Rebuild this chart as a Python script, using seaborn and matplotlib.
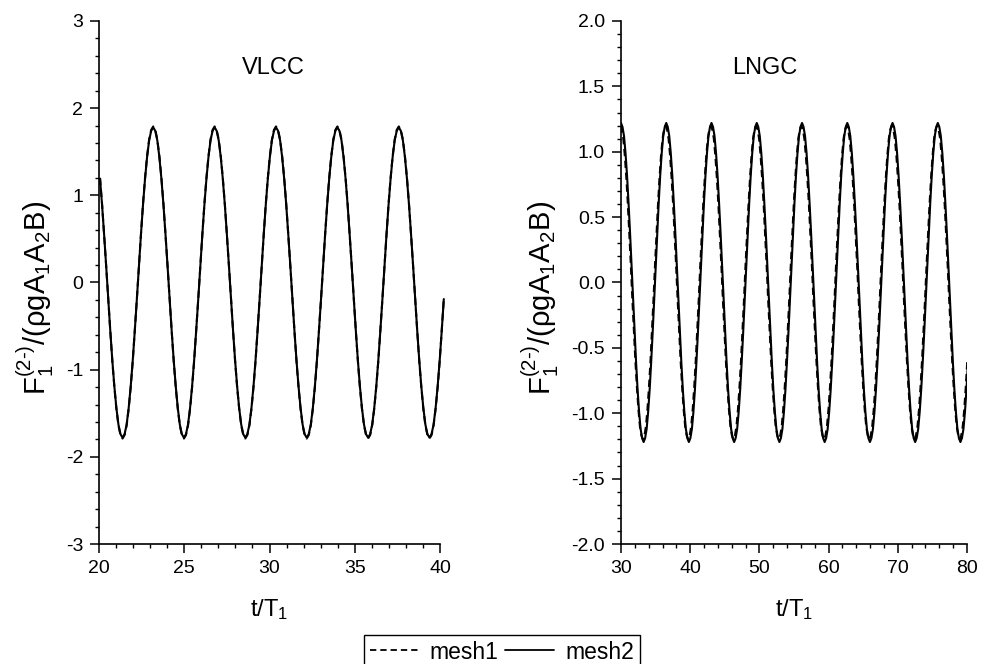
import numpy as np
import pandas as pd
import matplotlib
matplotlib.use("Agg")
import matplotlib.pyplot as plt
import seaborn as sns
from matplotlib.ticker import MultipleLocator, FormatStrFormatter
from matplotlib.lines import Line2D

# ---------------- data ----------------
# VLCC panel: samples every 0.12 t/T1 starting at t/T1 = 20.06
vlcc_t0 = 20.06
vlcc_dt = 0.12
vlcc_mesh2 = [
    1.19, 0.89, 0.55, 0.19, -0.19, -0.55, -0.89, -1.19, -1.44, -1.63, -1.74, -1.78, -1.74, -1.63, -1.44, -1.19, -0.89, -0.55, -0.19, 0.19, 0.55, 0.89, 1.19, 1.44, 1.63, 1.74,
    1.78, 1.74, 1.63, 1.44, 1.19, 0.89, 0.55, 0.19, -0.19, -0.55, -0.89, -1.19, -1.44, -1.63, -1.74, -1.78, -1.74, -1.63, -1.44, -1.19, -0.89, -0.55, -0.19, 0.19, 0.55, 0.89, 1.19, 1.44, 1.63, 1.74,
    1.78, 1.74, 1.63, 1.44, 1.19, 0.89, 0.55, 0.19, -0.19, -0.55, -0.89, -1.19, -1.44, -1.63, -1.74, -1.78, -1.74, -1.63, -1.44, -1.19, -0.89, -0.55, -0.19, 0.19, 0.55, 0.89, 1.19, 1.44, 1.63, 1.74,
    1.78, 1.74, 1.63, 1.44, 1.19, 0.89, 0.55, 0.19, -0.19, -0.55, -0.89, -1.19, -1.44, -1.63, -1.74, -1.78, -1.74, -1.63, -1.44, -1.19, -0.89, -0.55, -0.19, 0.19, 0.55, 0.89, 1.19, 1.44, 1.63, 1.74,
    1.78, 1.74, 1.63, 1.44, 1.19, 0.89, 0.55, 0.19, -0.19, -0.55, -0.89, -1.19, -1.44, -1.63, -1.74, -1.78, -1.74, -1.63, -1.44, -1.19, -0.89, -0.55, -0.19, 0.19, 0.55, 0.89, 1.19, 1.44, 1.63, 1.74,
    1.78, 1.74, 1.63, 1.44, 1.19, 0.89, 0.55, 0.19, -0.19, -0.55, -0.89, -1.19, -1.44, -1.63, -1.74, -1.78, -1.74, -1.63, -1.44, -1.19, -0.89, -0.55, -0.19,
]
vlcc_mesh1 = [
    1.20, 0.90, 0.55, 0.19, -0.19, -0.55, -0.90, -1.20, -1.45, -1.64, -1.75, -1.79, -1.75, -1.64, -1.45, -1.20, -0.90, -0.55, -0.19, 0.19, 0.55, 0.90, 1.20, 1.45, 1.64, 1.75,
    1.79, 1.75, 1.64, 1.45, 1.20, 0.90, 0.55, 0.19, -0.19, -0.55, -0.90, -1.20, -1.45, -1.64, -1.75, -1.79, -1.75, -1.64, -1.45, -1.20, -0.90, -0.55, -0.19, 0.19, 0.55, 0.90, 1.20, 1.45, 1.64, 1.75,
    1.79, 1.75, 1.64, 1.45, 1.20, 0.90, 0.55, 0.19, -0.19, -0.55, -0.90, -1.20, -1.45, -1.64, -1.75, -1.79, -1.75, -1.64, -1.45, -1.20, -0.90, -0.55, -0.19, 0.19, 0.55, 0.90, 1.20, 1.45, 1.64, 1.75,
    1.79, 1.75, 1.64, 1.45, 1.20, 0.90, 0.55, 0.19, -0.19, -0.55, -0.90, -1.20, -1.45, -1.64, -1.75, -1.79, -1.75, -1.64, -1.45, -1.20, -0.90, -0.55, -0.19, 0.19, 0.55, 0.90, 1.20, 1.45, 1.64, 1.75,
    1.79, 1.75, 1.64, 1.45, 1.20, 0.90, 0.55, 0.19, -0.19, -0.55, -0.90, -1.20, -1.45, -1.64, -1.75, -1.79, -1.75, -1.64, -1.45, -1.20, -0.90, -0.55, -0.19, 0.19, 0.55, 0.90, 1.20, 1.45, 1.64, 1.75,
    1.79, 1.75, 1.64, 1.45, 1.20, 0.90, 0.55, 0.19, -0.19, -0.55, -0.90, -1.20, -1.45, -1.64, -1.75, -1.79, -1.75, -1.64, -1.45, -1.20, -0.90, -0.55, -0.19,
]

# LNGC panel: samples every 0.218 t/T1; mesh1 leads mesh2 slightly
lngc_dt = 0.218
lngc_t0_mesh2 = 30.0
lngc_t0_mesh1 = 29.9
lngc_mesh2 = [
    1.22, 1.19, 1.12, 0.99, 0.82, 0.61, 0.38, 0.13, -0.13, -0.38, -0.61, -0.82, -0.99, -1.12, -1.19, -1.22, -1.19, -1.12, -0.99, -0.82, -0.61, -0.38, -0.13, 0.13, 0.38, 0.61, 0.82, 0.99, 1.12, 1.19,
    1.22, 1.19, 1.12, 0.99, 0.82, 0.61, 0.38, 0.13, -0.13, -0.38, -0.61, -0.82, -0.99, -1.12, -1.19, -1.22, -1.19, -1.12, -0.99, -0.82, -0.61, -0.38, -0.13, 0.13, 0.38, 0.61, 0.82, 0.99, 1.12, 1.19,
    1.22, 1.19, 1.12, 0.99, 0.82, 0.61, 0.38, 0.13, -0.13, -0.38, -0.61, -0.82, -0.99, -1.12, -1.19, -1.22, -1.19, -1.12, -0.99, -0.82, -0.61, -0.38, -0.13, 0.13, 0.38, 0.61, 0.82, 0.99, 1.12, 1.19,
    1.22, 1.19, 1.12, 0.99, 0.82, 0.61, 0.38, 0.13, -0.13, -0.38, -0.61, -0.82, -0.99, -1.12, -1.19, -1.22, -1.19, -1.12, -0.99, -0.82, -0.61, -0.38, -0.13, 0.13, 0.38, 0.61, 0.82, 0.99, 1.12, 1.19,
    1.22, 1.19, 1.12, 0.99, 0.82, 0.61, 0.38, 0.13, -0.13, -0.38, -0.61, -0.82, -0.99, -1.12, -1.19, -1.22, -1.19, -1.12, -0.99, -0.82, -0.61, -0.38, -0.13, 0.13, 0.38, 0.61, 0.82, 0.99, 1.12, 1.19,
    1.22, 1.19, 1.12, 0.99, 0.82, 0.61, 0.38, 0.13, -0.13, -0.38, -0.61, -0.82, -0.99, -1.12, -1.19, -1.22, -1.19, -1.12, -0.99, -0.82, -0.61, -0.38, -0.13, 0.13, 0.38, 0.61, 0.82, 0.99, 1.12, 1.19,
    1.22, 1.19, 1.12, 0.99, 0.82, 0.61, 0.38, 0.13, -0.13, -0.38, -0.61, -0.82, -0.99, -1.12, -1.19, -1.22, -1.19, -1.12, -0.99, -0.82, -0.61, -0.38, -0.13, 0.13, 0.38, 0.61, 0.82, 0.99, 1.12, 1.19,
    1.22, 1.19, 1.12, 0.99, 0.82, 0.61, 0.38, 0.13, -0.13, -0.38, -0.61, -0.82, -0.99, -1.12, -1.19, -1.22, -1.19, -1.12, -0.99, -0.82, -0.61,
]
lngc_mesh1 = [
    1.20, 1.17, 1.10, 0.97, 0.80, 0.60, 0.37, 0.13, -0.13, -0.37, -0.60, -0.80, -0.97, -1.10, -1.17, -1.20, -1.17, -1.10, -0.97, -0.80, -0.60, -0.37, -0.13, 0.13, 0.37, 0.60, 0.80, 0.97, 1.10, 1.17,
    1.20, 1.17, 1.10, 0.97, 0.80, 0.60, 0.37, 0.13, -0.13, -0.37, -0.60, -0.80, -0.97, -1.10, -1.17, -1.20, -1.17, -1.10, -0.97, -0.80, -0.60, -0.37, -0.13, 0.13, 0.37, 0.60, 0.80, 0.97, 1.10, 1.17,
    1.20, 1.17, 1.10, 0.97, 0.80, 0.60, 0.37, 0.13, -0.13, -0.37, -0.60, -0.80, -0.97, -1.10, -1.17, -1.20, -1.17, -1.10, -0.97, -0.80, -0.60, -0.37, -0.13, 0.13, 0.37, 0.60, 0.80, 0.97, 1.10, 1.17,
    1.20, 1.17, 1.10, 0.97, 0.80, 0.60, 0.37, 0.13, -0.13, -0.37, -0.60, -0.80, -0.97, -1.10, -1.17, -1.20, -1.17, -1.10, -0.97, -0.80, -0.60, -0.37, -0.13, 0.13, 0.37, 0.60, 0.80, 0.97, 1.10, 1.17,
    1.20, 1.17, 1.10, 0.97, 0.80, 0.60, 0.37, 0.13, -0.13, -0.37, -0.60, -0.80, -0.97, -1.10, -1.17, -1.20, -1.17, -1.10, -0.97, -0.80, -0.60, -0.37, -0.13, 0.13, 0.37, 0.60, 0.80, 0.97, 1.10, 1.17,
    1.20, 1.17, 1.10, 0.97, 0.80, 0.60, 0.37, 0.13, -0.13, -0.37, -0.60, -0.80, -0.97, -1.10, -1.17, -1.20, -1.17, -1.10, -0.97, -0.80, -0.60, -0.37, -0.13, 0.13, 0.37, 0.60, 0.80, 0.97, 1.10, 1.17,
    1.20, 1.17, 1.10, 0.97, 0.80, 0.60, 0.37, 0.13, -0.13, -0.37, -0.60, -0.80, -0.97, -1.10, -1.17, -1.20, -1.17, -1.10, -0.97, -0.80, -0.60, -0.37, -0.13, 0.13, 0.37, 0.60, 0.80, 0.97, 1.10, 1.17,
    1.20, 1.17, 1.10, 0.97, 0.80, 0.60, 0.37, 0.13, -0.13, -0.37, -0.60, -0.80, -0.97, -1.10, -1.17, -1.20, -1.17, -1.10, -0.97, -0.80, -0.60,
]

series_names = ["mesh1", "mesh2"]
panel_titles = ["VLCC", "LNGC"]
x_label = "t/T$_1$"
y_label = r"F$_1^{(2\text{-})}$/(ρgA$_1$A$_2$B)"


def frame(t0, dt, values, name):
    t = t0 + dt * np.arange(len(values))
    return pd.DataFrame({"t": t, "F": values, "mesh": name})


df_vlcc = pd.concat([
    frame(vlcc_t0, vlcc_dt, vlcc_mesh1, "mesh1"),
    frame(vlcc_t0, vlcc_dt, vlcc_mesh2, "mesh2"),
], ignore_index=True)
df_lngc = pd.concat([
    frame(lngc_t0_mesh1, lngc_dt, lngc_mesh1, "mesh1"),
    frame(lngc_t0_mesh2, lngc_dt, lngc_mesh2, "mesh2"),
], ignore_index=True)

# ---------------- style ----------------
sns.set_theme(style="ticks")
plt.rcParams.update({
    "font.family": ["Liberation Sans", "DejaVu Sans"],
    "mathtext.fontset": "custom",
    "mathtext.rm": "Liberation Sans",
    "mathtext.it": "Liberation Sans:italic",
    "mathtext.bf": "Liberation Sans:bold",
    "axes.unicode_minus": False,
    "axes.linewidth": 1.2,
    "axes.edgecolor": "black",
    "xtick.color": "black",
    "ytick.color": "black",
    "text.color": "black",
    "axes.labelcolor": "black",
})

fig = plt.figure(figsize=(9.92, 6.64), dpi=100)
ax1 = fig.add_axes([0.0998, 0.1807, 0.3438, 0.7877])
ax2 = fig.add_axes([0.626, 0.1807, 0.3488, 0.7877])

dash_map = {"mesh1": (3.5, 2.2), "mesh2": ""}

for ax, df in [(ax1, df_vlcc), (ax2, df_lngc)]:
    sns.lineplot(data=df, x="t", y="F", style="mesh", style_order=series_names,
                 dashes=dash_map, color="black", linewidth=1.5,
                 estimator=None, sort=False, legend=False, ax=ax)

# the VLCC record runs a little past the axis end, as in the original
for ln in ax1.get_lines():
    ln.set_clip_on(False)

# VLCC axes
ax1.set_xlim(20, 40)
ax1.set_ylim(-3, 3)
ax1.xaxis.set_major_locator(MultipleLocator(5))
ax1.xaxis.set_minor_locator(MultipleLocator(1))
ax1.yaxis.set_major_locator(MultipleLocator(1))
ax1.yaxis.set_minor_locator(MultipleLocator(0.2))
ax1.yaxis.set_major_formatter(FormatStrFormatter("%d"))

# LNGC axes
ax2.set_xlim(30, 80)
ax2.set_ylim(-2, 2)
ax2.xaxis.set_major_locator(MultipleLocator(10))
ax2.xaxis.set_minor_locator(MultipleLocator(2))
ax2.yaxis.set_major_locator(MultipleLocator(0.5))
ax2.yaxis.set_minor_locator(MultipleLocator(0.1))
ax2.yaxis.set_major_formatter(FormatStrFormatter("%.1f"))

for ax, title, tx, ylx in [(ax1, panel_titles[0], 0.51, -0.125), (ax2, panel_titles[1], 0.416, -0.172)]:
    sns.despine(ax=ax)
    ax.tick_params(which="major", direction="out", length=6.5, width=1.1, labelsize=14, pad=5)
    ax.tick_params(which="minor", direction="out", length=3.2, width=1.0)
    ax.set_xlabel(x_label, fontsize=17)
    ax.set_ylabel(y_label, fontsize=21)
    ax.xaxis.set_label_coords(0.5, -0.102)
    ax.yaxis.set_label_coords(ylx, 0.47)
    ax.text(tx, 0.91, title, transform=ax.transAxes, ha="center", va="center", fontsize=17)
    ax.grid(False)

handles = [Line2D([], [], color="black", lw=1.3, dashes=(3.5, 2.2)),
           Line2D([], [], color="black", lw=1.3)]
leg = fig.legend(handles, series_names, loc="upper center", bbox_to_anchor=(0.506, 0.044),
                 ncol=2, frameon=True, fancybox=False, edgecolor="black", framealpha=1,
                 fontsize=16.5, handlelength=2.1, handletextpad=0.5, columnspacing=0.3,
                 borderpad=0.25, borderaxespad=0.0)
leg.get_frame().set_linewidth(1.0)

fig.savefig("out.png", dpi=100)
